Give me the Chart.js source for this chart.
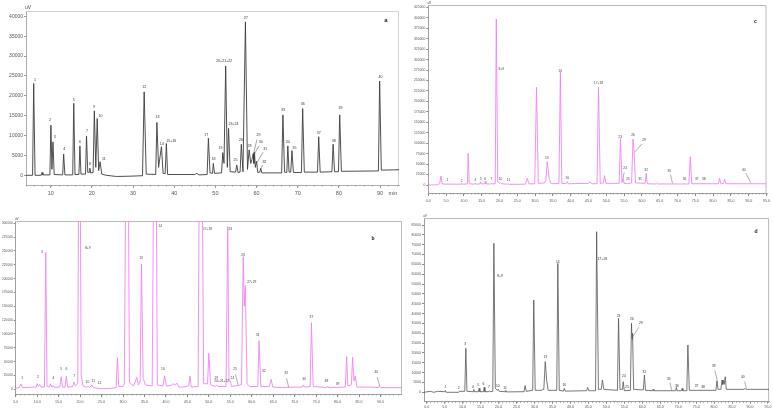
<!DOCTYPE html>
<html><head><meta charset="utf-8">
<script src="https://cdn.jsdelivr.net/npm/chart.js@4.4.1/dist/chart.umd.min.js"></script>
<style>
html,body{margin:0;padding:0;background:#fff}
body{width:773px;height:412px;position:relative;overflow:hidden}
canvas{position:absolute}
</style></head>
<body>
<canvas id="ca" width="402" height="200" style="left:0;top:0"></canvas>
<canvas id="cc" width="371" height="210" style="left:402px;top:0"></canvas>
<canvas id="cb" width="402" height="200" style="left:0;top:212px"></canvas>
<canvas id="cd" width="371" height="202" style="left:402px;top:210px"></canvas>
<script>
// ---------- Panel a (standard mixture) ----------
const traceA_t = [4.0,5.6,5.87,6.2,7.7,7.9,8.1,9.8,10.05,10.3,10.55,10.85,12.9,13.15,13.45,15.35,15.6,15.9,16.85,17.1,17.35,18.45,18.7,19.0,19.35,19.5,19.7,20.3,20.6,20.95,21.3,21.65,22.0,22.4,23.5,26,30,32.3,32.7,33.2,35.5,35.8,36.2,36.9,37.3,37.8,38.1,38.4,45,45.5,46,48.0,48.3,48.7,49.3,49.5,49.8,51.5,51.8,52.1,52.5,52.9,53.2,53.6,54.9,55.2,55.5,56.0,56.3,56.7,57.3,57.8,58.2,58.6,58.9,59.2,59.35,59.5,59.7,60.0,60.3,60.8,61.0,61.3,66.1,66.4,66.8,67.35,67.6,67.9,68.3,68.6,68.95,70.9,71.2,71.6,74.8,75.1,75.45,78.3,78.6,78.95,79.9,80.2,80.6,89.6,89.9,90.3,94.6];
const traceA_v = [0,0,23100,0,0,700,100,100,12600,1500,8400,200,100,5300,100,100,18100,200,200,7400,300,300,9900,700,800,1800,600,700,16200,2000,14300,1200,3400,300,0,-300,-200,-100,21000,300,200,13300,2000,7200,500,400,8000,200,200,500,100,200,9300,600,500,3000,500,600,5700,3000,27500,2000,11800,900,800,2600,700,800,7800,900,38600,1500,6400,3000,4000,5500,3000,5800,2000,3500,700,800,1800,600,600,15200,800,700,7400,800,800,6200,700,700,16800,800,800,9700,800,900,7800,900,900,15200,1000,1100,23700,1300,1400];
const labA_txt = ['1','2','3','4','5','6','7','8','9','10','11','12','13','14','15+16','17','18','19','20+21+22','23+24','25','26','27','28','29','30','31','32','33','34','35','36','37','38','39','40'];
const labA_t = [6.19,9.83,10.96,13.3,15.57,17.1,18.8,19.53,20.58,22.1,22.9,32.7,35.96,37.0,39.27,47.77,49.55,51.25,52.13,54.4,54.9,56.2,57.4,58.3,60.5,61.0,62.1,61.9,66.4,67.6,69.2,71.2,75.1,78.76,80.4,90.1];
const labA_v = [23470,13580,9060,6190,18440,7950,10720,2420,16850,14590,3770,21640,14160,7370,8200,9560,3670,6440,28180,12480,3350,8550,39070,7040,9560,7870,6190,2840,15920,8050,6540,17360,10210,8300,16600,24300];
const leadA = [[60.1,9000,59.2,5200],[60.6,7400,59.5,5400],[61.6,5800,60.1,3200],[61.5,2600,61.0,1600]];
const yTicksA = [0,5000,10000,15000,20000,25000,30000,35000,40000];
const xTicksA = [10,20,30,40,50,60,70,80,90];

// ---------- Panel c ----------
const traceC_t = [0,2.5,3.2,3.55,3.9,5.3,5.5,5.7,9.2,9.4,9.6,11.0,11.2,11.5,13.0,13.2,13.4,14.5,14.7,14.9,15.8,16.0,16.2,17.5,17.7,17.9,18.8,19.1,19.5,20.1,20.3,20.6,22.3,22.5,22.7,27.3,27.8,28.3,29.9,30.4,30.9,32.6,33.0,33.4,34.0,34.5,36.7,37.1,37.5,38.7,39.0,39.3,45.0,45.4,45.8,47.4,47.8,48.3,49.2,49.5,49.9,53.6,54.0,54.4,54.7,55.0,56.0,57.1,57.5,57.8,58.2,60.9,61.2,61.5,63.8,64.1,64.4,73.2,73.6,74.0,81.5,81.8,82.2,82.9,83.2,83.6,95];
const traceC_v = [0,500,3000,21500,2500,2000,3500,2000,2000,4000,2000,2500,75800,3000,2000,4500,2000,2500,7500,2500,2500,8500,2500,2500,4000,2500,3000,397000,8000,4000,5000,3000,2000,3000,1500,2000,16000,2500,3000,233700,4000,5000,10000,55700,15000,3000,3500,269500,4000,3000,8000,3000,4000,8000,3000,3000,233700,4000,5000,22300,4000,4000,111700,6000,15000,4000,3000,5000,110000,80000,5000,4000,28000,3000,2500,5000,2500,2500,67700,3000,3000,16000,3000,3500,13600,3000,3000];
const labC_txt = ['1','2','4','5','6','7','8+9','10','11','13','14','16','17+18','23','24','25','26','29','31','32','35','36','37','38','40'];
const labC_t = [5.4,9.4,13.2,14.7,16.0,17.7,20.5,20.3,22.5,33.3,37.0,39.0,47.8,53.9,55.3,56.1,57.5,60.6,59.5,61.2,67.7,72.0,75.4,77.4,88.6];
const labC_v = [7900,6400,7900,11200,11200,9600,274300,9600,7200,61400,268700,12000,240800,111600,35900,9600,114800,103600,9600,31800,29400,9600,11200,9600,31800];
const leadC = [[60.0,98000,57.9,78000],[55.0,30000,54.7,15000],[68.0,25000,68.6,4000],[89.2,28000,90.6,5000]];
const yTicksC = [0,25000,50000,75000,100000,125000,150000,175000,200000,225000,250000,275000,300000,325000,350000,375000,400000,425000];
const xTicksC = [0,5,10,15,20,25,30,35,40,45,50,55,60,65,70,75,80,85,90,95];

// ---------- Panel b ----------
const traceB_t = [5,5.8,6.2,6.6,9.8,10.0,10.3,10.6,10.9,11.7,12.0,12.3,12.9,13.1,13.4,13.7,14.0,15.3,15.6,15.9,16.5,16.8,17.1,18.3,18.6,18.9,19.45,19.7,20.0,20.25,20.4,20.7,21.5,21.9,22.2,22.8,23.1,25,27,28.4,28.7,29.0,30.0,30.3,30.7,31.2,31.5,32.5,33.2,33.6,34.0,34.3,34.7,35.2,36.8,37.2,37.7,38.0,39.3,39.7,40.1,41.2,41.7,42.2,42.6,43.0,44.0,45.3,45.6,45.9,47.5,47.8,48.4,48.8,49.7,50.0,50.4,51.5,51.8,52.1,54.0,54.4,54.7,55.0,55.3,57.6,58.0,58.25,58.5,58.9,59.5,61.4,61.7,62.1,64.1,64.5,64.9,67,70,71.8,72.0,72.3,73.6,73.9,74.3,77.5,77.7,77.9,81.8,82.1,82.4,83.2,83.5,83.8,84.1,84.5,88,89.5,89.7,90,95];
const traceB_v = [2000,3000,9600,3000,4000,10000,5000,9000,4000,4000,247600,5000,4000,10000,4000,7000,3500,4000,22800,4000,4000,23500,4000,5000,13000,6000,10000,450000,450000,25000,25000,6000,4000,5000,3000,8000,3000,1000,1500,3000,57200,5000,5000,10000,450000,450000,12000,6000,21700,8000,15000,226500,20000,8000,6000,450000,450000,8000,6000,24100,6000,7000,10000,8000,11000,4000,4000,6000,24100,4000,5000,450000,450000,10000,10000,65100,8000,5000,8000,5000,5000,294000,15000,15000,5000,8000,239800,150000,187300,10000,5000,5000,87900,5000,5000,18000,4000,3000,4000,4000,8000,4000,5000,120400,5000,3000,6000,3000,4000,59000,6000,8000,58000,15000,24000,4000,4000,3000,6000,3000,3000];
const labB_txt = ['1','2','3','4','5','6','7','8+9','10','11','12','13','14','16','17+18','19','20+21+22','23','24','25','26','27+29','31','32','33','36','37','38','39','40'];
const labB_t = [6.5,10.2,11.1,13.8,15.6,16.8,18.6,21.8,21.7,23.1,24.5,34.2,38.7,39.3,49.7,51.7,53.0,55.0,55.5,56.1,58.0,60.0,61.4,62.8,68.0,72.2,73.9,77.4,80.0,89.0];
const labB_v = [16800,19900,245800,16800,33100,33100,21700,253100,9600,12650,9000,235000,292800,33100,286200,16800,12650,287400,18100,33100,239700,191600,95800,30000,25850,16000,128300,12650,6500,27650];
const leadB = [[56.2,27000,56.8,8000],[68.1,20000,68.6,4000],[89.2,22000,89.8,6000]];
const yTicksB = [0,25000,50000,75000,100000,125000,150000,175000,200000,225000,250000,275000,300000];
const xTicksB = [5,10,15,20,25,30,35,40,45,50,55,60,65,70,75,80,85,90];

// ---------- Panel d ----------
const traceD_t = [-0.75,1,2,3,5,5.2,5.4,8.9,9.1,10.6,10.9,11.2,12.9,13.1,13.3,14.4,14.6,14.8,15.8,16.0,16.2,17.3,17.5,17.7,18.4,18.7,19.1,19.7,19.9,20.2,21.8,22.0,22.2,27.1,27.4,27.7,29.5,29.8,30.2,32.0,32.2,32.6,33.0,33.4,33.8,36.2,36.5,36.9,38.1,38.3,38.6,44.5,44.8,45.1,47.0,47.3,47.8,48.6,48.9,49.3,53.1,53.4,53.8,54.5,54.7,55.0,56.7,57.0,57.15,57.3,57.6,60.3,60.6,60.9,62.8,63.0,63.2,69.3,69.5,69.7,70.9,71.1,71.3,72.4,72.7,73.1,80.5,80.8,81.1,81.9,82.2,82.4,82.6,82.8,83.1,83.4,88.3,88.6,88.9,95.3];
const traceD_v = [0,500,0,500,300,1000,0,0,500,500,22400,500,300,1500,300,300,2000,300,300,2500,300,300,800,300,500,75700,2000,1000,1500,500,300,1000,200,300,3400,500,1000,46900,1000,1000,1500,1500,15600,6000,1000,1000,65500,1000,600,2000,600,800,2500,800,800,81600,1500,1500,6250,1500,1000,37600,1500,1500,5400,800,1000,35100,27000,30000,1500,1200,8800,1000,800,1500,800,800,2500,800,800,2000,800,800,24000,1000,1000,5900,1500,1500,6250,4000,6000,4000,7900,1500,1500,2000,1500,1500];
const labD_txt = ['1','2','3','4','5','6','7','8+9','10','11','13','14','16','17+18','23','24','25','26','29','32','35','36','37','38','39','40'];
const labD_t = [5.2,8.9,10.7,12.9,14.4,15.8,17.3,20.4,19.8,21.8,33.0,36.5,38.3,48.9,53.4,54.9,55.8,57.1,59.6,60.6,67.4,69.7,75.1,76.9,79.9,88.0];
const labD_v = [2030,1350,23700,2030,2870,3380,2030,58400,2370,1520,17260,65200,2870,66700,37900,7420,2030,36230,34550,9300,6100,2370,2370,1860,12500,6760];
const leadD = [[59.0,33000,57.3,28000],[67.7,5000,68.2,1000],[80.2,11000,80.9,6000],[88.5,5500,89.0,2000]];
const yTicksD = [0,5000,10000,15000,20000,25000,30000,35000,40000,45000,50000,55000,60000,65000,70000,75000,80000,85000];
const xTicksD = [0,5,10,15,20,25,30,35,40,45,50,55,60,65,70,75,80,85,90,95];

// ---------- builder ----------
function fmtInt(v){return String(v);}
function fmt1(v){return v.toFixed(1);}

function makeChart(id, o){
  const deco = {
    id:'deco',
    beforeDatasetsDraw(ch){
      const a = ch.chartArea, c = ch.ctx, xs = ch.scales.x;
      c.save();
      c.strokeStyle = o.frameColor; c.lineWidth = 0.8;
      c.beginPath();
      c.moveTo(a.left, a.top+0.5); c.lineTo(a.right-0.5, a.top+0.5); c.lineTo(a.right-0.5, a.bottom);
      c.stroke();
      // minor ticks on the time axis
      c.strokeStyle = o.axisColor; c.lineWidth = 0.6;
      c.beginPath();
      for (let m = Math.ceil(o.xmin / o.minorStep) * o.minorStep; m <= o.xmax; m += o.minorStep){
        const px = Math.round(xs.getPixelForValue(m)) + 0.5;
        c.moveTo(px, a.bottom); c.lineTo(px, a.bottom + o.minorLen);
      }
      c.stroke();
      c.restore();
    },
    afterDatasetsDraw(ch){
      const c = ch.ctx, xs = ch.scales.x, ys = ch.scales.y, a = ch.chartArea;
      c.save();
      c.fillStyle = o.labelColor;
      c.font = o.labelFont + 'px "Liberation Sans", Arial, sans-serif';
      c.textAlign = 'center'; c.textBaseline = 'bottom';
      o.labTxt.forEach((t,i)=>{
        c.fillText(t, xs.getPixelForValue(o.labT[i]), ys.getPixelForValue(o.labV[i]));
      });
      c.strokeStyle = o.leaderColor; c.lineWidth = 0.6;
      o.leaders.forEach(l=>{
        c.beginPath();
        c.moveTo(xs.getPixelForValue(l[0]), ys.getPixelForValue(l[1]));
        c.lineTo(xs.getPixelForValue(l[2]), ys.getPixelForValue(l[3]));
        c.stroke();
      });
      // panel letter
      c.fillStyle = '#222';
      c.font = 'bold ' + o.letterFont + 'px "Liberation Sans", Arial, sans-serif';
      c.textAlign = 'center'; c.textBaseline = 'middle';
      c.fillText(o.letter, a.right - o.letterDx, a.top + o.letterDy);
      // unit
      c.fillStyle = '#444';
      c.font = o.unitFont + 'px "Liberation Sans", Arial, sans-serif';
      c.textAlign = 'left'; c.textBaseline = 'bottom';
      c.fillText('uV', a.left - 1, a.top - 0.5);
      if (o.minLabel){
        c.font = o.tickFont + 'px "Liberation Sans", Arial, sans-serif';
        c.textAlign = 'center'; c.textBaseline = 'middle';
        c.fillStyle = '#555';
        c.fillText('min', a.right - 6, a.bottom + 8);
      }
      c.restore();
    }
  };
  return new Chart(document.getElementById(id), {
    type:'line',
    data:{datasets:[{
      data:o.t.map((t,i)=>({x:t,y:o.v[i]})),
      borderColor:o.color, borderWidth:o.lw, pointRadius:0, tension:0, fill:false
    }]},
    options:{
      responsive:false, animation:false, events:[],
      layout:{padding:o.pad},
      plugins:{legend:{display:false}, tooltip:{enabled:false}},
      scales:{
        x:{type:'linear', min:o.xmin, max:o.xmax,
          afterBuildTicks:s=>{s.ticks=o.xTicks.map(v=>({value:v}));},
          afterFit:s=>{s.height=o.xh;},
          ticks:{autoSkip:false, maxRotation:0, font:{size:o.tickFont, family:'"Liberation Sans", Arial, sans-serif'}, color:'#555', padding:o.xpad, callback:o.xfmt},
          grid:{drawOnChartArea:false, tickLength:o.tickLen, color:o.axisColor},
          border:{color:o.axisColor, width:0.8}},
        y:{type:'linear', min:o.ymin, max:o.ymax,
          afterBuildTicks:s=>{s.ticks=o.yTicks.map(v=>({value:v}));},
          afterFit:s=>{s.width=o.yw;},
          ticks:{autoSkip:false, font:{size:o.yTickFont, family:'"Liberation Sans", Arial, sans-serif'}, color:'#555', padding:1, callback:fmtInt},
          grid:{drawOnChartArea:false, tickLength:2, color:o.axisColor},
          border:{color:o.axisColor, width:0.8}}
      }
    },
    plugins:[deco]
  });
}

makeChart('ca', {t:traceA_t, v:traceA_v, labTxt:labA_txt, labT:labA_t, labV:labA_v, leaders:leadA,
  xTicks:xTicksA, yTicks:yTicksA, xmin:4, xmax:94.6, ymin:-2440, ymax:41330,
  pad:{top:11,right:3,left:0,bottom:0}, yw:26, xh:15, color:'#3c3c3c', lw:0.9,
  tickFont:5.5, yTickFont:5, xpad:2, tickLen:3, xfmt:fmtInt, labelFont:3.6, labelColor:'#333', leaderColor:'#666',
  axisColor:'#999', frameColor:'#c8c8c8', letter:'a', letterFont:6, letterDx:13, letterDy:9, unitFont:5, minLabel:true,
  minorStep:2, minorLen:1.8});

makeChart('cc', {t:traceC_t, v:traceC_v, labTxt:labC_txt, labT:labC_t, labV:labC_v, leaders:leadC,
  xTicks:xTicksC, yTicks:yTicksC, xmin:0, xmax:95, ymin:-19130, ymax:430500,
  pad:{top:5,right:5,left:0,bottom:0}, yw:26.3, xh:17, color:'#f285f2', lw:0.9,
  tickFont:3.6, yTickFont:3.4, xpad:3, tickLen:3, xfmt:fmt1, labelFont:3.3, labelColor:'#444', leaderColor:'#777',
  axisColor:'#888', frameColor:'#aaa', letter:'c', letterFont:5, letterDx:11, letterDy:17, unitFont:3.2, minLabel:false,
  minorStep:1, minorLen:1.5});

makeChart('cb', {t:traceB_t, v:traceB_v, labTxt:labB_txt, labT:labB_t, labV:labB_v, leaders:leadB,
  xTicks:xTicksB, yTicks:yTicksB, xmin:5, xmax:95, ymin:-8500, ymax:304160,
  pad:{top:9,right:0,left:0,bottom:0}, yw:15.7, xh:18, color:'#f285f2', lw:0.9,
  tickFont:3.6, yTickFont:3.2, xpad:3, tickLen:3, xfmt:fmt1, labelFont:3.3, labelColor:'#444', leaderColor:'#777',
  axisColor:'#888', frameColor:'#aaa', letter:'b', letterFont:5, letterDx:29, letterDy:18, unitFont:3.2, minLabel:false,
  minorStep:1, minorLen:1.5});

makeChart('cd', {t:traceD_t, v:traceD_v, labTxt:labD_txt, labT:labD_t, labV:labD_v, leaders:leadD,
  xTicks:xTicksD, yTicks:yTicksD, xmin:-0.75, xmax:95.3, ymin:-4776, ymax:88560,
  pad:{top:8,right:2,left:0,bottom:0}, yw:22, xh:10.3, color:'#555555', lw:0.8,
  tickFont:3.6, yTickFont:3.4, xpad:1.5, tickLen:2, xfmt:fmt1, labelFont:3.3, labelColor:'#333', leaderColor:'#777',
  axisColor:'#888', frameColor:'#aaa', letter:'d', letterFont:5, letterDx:13, letterDy:14, unitFont:3.2, minLabel:false,
  minorStep:1, minorLen:1.5});
</script>
</body></html>
